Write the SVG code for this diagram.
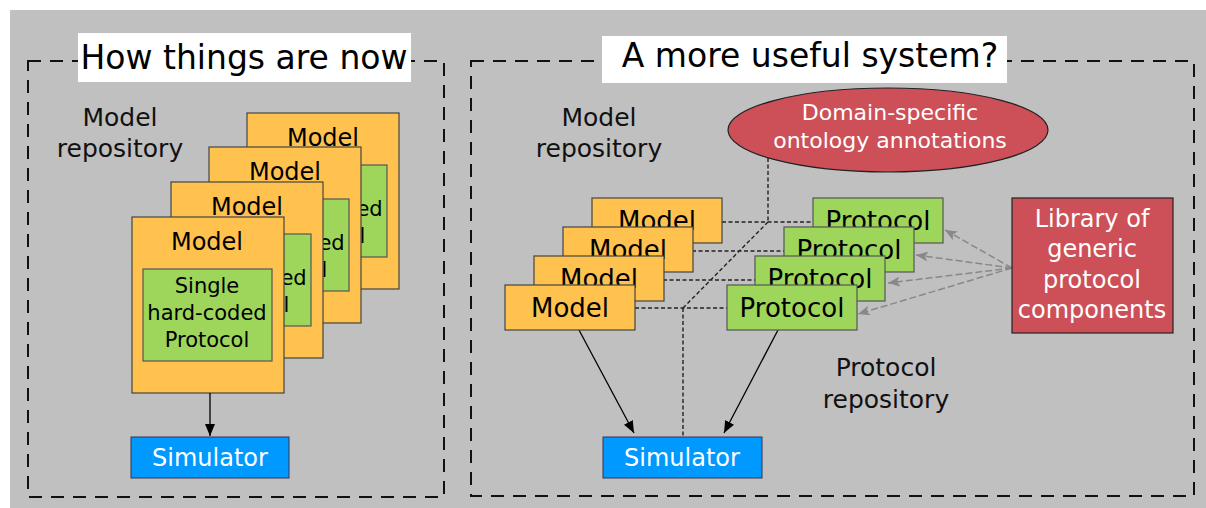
<svg xmlns="http://www.w3.org/2000/svg" width="1206" height="508" viewBox="0 0 1206 508">
<defs>
<style>
text{font-family:"DejaVu Sans","Liberation Sans",sans-serif;text-anchor:middle;}
.frame{fill:none;stroke:#111;stroke-width:2;stroke-dasharray:13 9;}
.title{font-size:33px;fill:#000;}
.lbl{font-size:25px;fill:#111;}
.model{fill:#ffc24f;stroke:#444;stroke-width:1.2;}
.proto{fill:#9dd65a;stroke:#555;stroke-width:1.2;}
.sim{fill:#0099ff;stroke:#335;stroke-width:1;}
.red{fill:#cd5058;stroke:#222;stroke-width:1.2;}
.t24{font-size:24px;fill:#000;}
.t21{font-size:21px;fill:#000;}
.t26{font-size:26px;fill:#000;}
.w{fill:#fff;}
.fine{fill:none;stroke:#222;stroke-width:1.4;stroke-dasharray:4 2.5;}
.arr{fill:none;stroke:#000;stroke-width:1.3;}
.garr{fill:none;stroke:#888;stroke-width:1.5;stroke-dasharray:7 3;}
</style>
<marker id="ah" viewBox="0 0 12 10" refX="12" refY="5" markerWidth="12" markerHeight="10" markerUnits="userSpaceOnUse" orient="auto">
<path d="M0,0 L12,5 L0,10 Z" fill="#000"/>
</marker>
<marker id="gah" viewBox="0 0 12 10" refX="12" refY="5" markerWidth="12" markerHeight="10" markerUnits="userSpaceOnUse" orient="auto">
<path d="M0,0 L12,5 L0,10 L3,5 Z" fill="#888"/>
</marker>
</defs>
<rect x="10" y="10" width="1196" height="498" fill="#c0c0c0"/>

<g id="panel-left">
<rect class="frame" x="28" y="61" width="416" height="436"/>
<rect x="78" y="33" width="333" height="49" fill="#fff"/>
<text class="title" x="244" y="69">How things are now</text>
<text class="lbl" x="120" y="126">Model</text>
<text class="lbl" x="120" y="157">repository</text>
</g>

<g id="left-model-4">
<rect class="model" x="247" y="113" width="152" height="176"/>
<rect class="proto" x="258" y="165" width="129" height="92"/>
<text class="t24" x="323" y="146">Model</text>
<text class="t21" x="323" y="189">Single</text>
<text class="t21" x="323" y="216">hard-coded</text>
<text class="t21" x="323" y="243">Protocol</text>
</g>
<g id="left-model-3">
<rect class="model" x="209" y="147" width="152" height="176"/>
<rect class="proto" x="220" y="199" width="129" height="92"/>
<text class="t24" x="285" y="180">Model</text>
<text class="t21" x="285" y="223">Single</text>
<text class="t21" x="285" y="250">hard-coded</text>
<text class="t21" x="285" y="277">Protocol</text>
</g>
<g id="left-model-2">
<rect class="model" x="171" y="182" width="152" height="176"/>
<rect class="proto" x="182" y="234" width="129" height="92"/>
<text class="t24" x="247" y="215">Model</text>
<text class="t21" x="247" y="258">Single</text>
<text class="t21" x="247" y="285">hard-coded</text>
<text class="t21" x="247" y="312">Protocol</text>
</g>
<g id="left-model-1">
<rect class="model" x="132" y="217" width="152" height="176"/>
<rect class="proto" x="143" y="269" width="129" height="92"/>
<text class="t24" x="207" y="250">Model</text>
<text class="t21" x="207" y="293">Single</text>
<text class="t21" x="207" y="320">hard-coded</text>
<text class="t21" x="207" y="347">Protocol</text>
</g>
<g id="left-simulator">
<rect class="sim" x="131" y="437" width="158" height="41"/>
<text class="t24 w" x="210" y="466">Simulator</text>
</g>

<g id="panel-right">
<rect class="frame" x="471" y="61" width="723" height="435"/>
<rect x="602" y="36" width="405" height="47" fill="#fff"/>
<text class="title" x="810" y="67">A more useful system?</text>
<text class="lbl" x="599" y="126">Model</text>
<text class="lbl" x="599" y="157">repository</text>
<text class="lbl" x="886" y="376">Protocol</text>
<text class="lbl" x="886" y="408">repository</text>
</g>

<g id="ontology">
<ellipse class="red" cx="888" cy="130" rx="160" ry="42"/>
<text class="w" style="font-size:22px" x="890" y="120">Domain-specific</text>
<text class="w" style="font-size:22px" x="890" y="148">ontology annotations</text>
</g>

<g id="connectors">
<path class="fine" d="M768,158 V222 M722,222 H813 M768,222 L683,308 M692,251 H784 M663,280 H755 M635,308 H727 M683,308 V437"/>
<path class="arr" d="M579,330 L634,433" marker-end="url(#ah)"/>
<path class="arr" d="M210,393 V436" marker-end="url(#ah)"/>
<path class="arr" d="M778,330 L724,433" marker-end="url(#ah)"/>
<path class="garr" d="M1012,268 L945,230" marker-end="url(#gah)"/>
<path class="garr" d="M1012,268 L916,255" marker-end="url(#gah)"/>
<path class="garr" d="M1012,268 L888,283" marker-end="url(#gah)"/>
<path class="garr" d="M1012,268 L858,314" marker-end="url(#gah)"/>
</g>

<g id="right-model-4"><rect class="model" x="592" y="198" width="130" height="45"/><text class="t26" x="657" y="230">Model</text></g>
<g id="right-model-3"><rect class="model" x="563" y="227" width="130" height="45"/><text class="t26" x="628" y="259">Model</text></g>
<g id="right-model-2"><rect class="model" x="534" y="256" width="130" height="45"/><text class="t26" x="599" y="288">Model</text></g>
<g id="right-model-1"><rect class="model" x="505" y="285" width="130" height="45"/><text class="t26" x="570" y="317">Model</text></g>

<g id="protocol-4"><rect class="proto" x="813" y="198" width="130" height="45"/><text class="t26" x="878" y="230">Protocol</text></g>
<g id="protocol-3"><rect class="proto" x="784" y="227" width="130" height="45"/><text class="t26" x="849" y="259">Protocol</text></g>
<g id="protocol-2"><rect class="proto" x="755" y="256" width="130" height="45"/><text class="t26" x="820" y="288">Protocol</text></g>
<g id="protocol-1"><rect class="proto" x="727" y="285" width="130" height="45"/><text class="t26" x="792" y="317">Protocol</text></g>

<g id="library">
<rect class="red" x="1012" y="198" width="161" height="135"/>
<text class="t24 w" x="1092" y="227">Library of</text>
<text class="t24 w" x="1092" y="257">generic</text>
<text class="t24 w" x="1092" y="288">protocol</text>
<text class="t24 w" x="1092" y="318">components</text>
</g>

<g id="right-simulator">
<rect class="sim" x="603" y="437" width="159" height="41"/>
<text class="t24 w" x="682" y="466">Simulator</text>
</g>
</svg>
